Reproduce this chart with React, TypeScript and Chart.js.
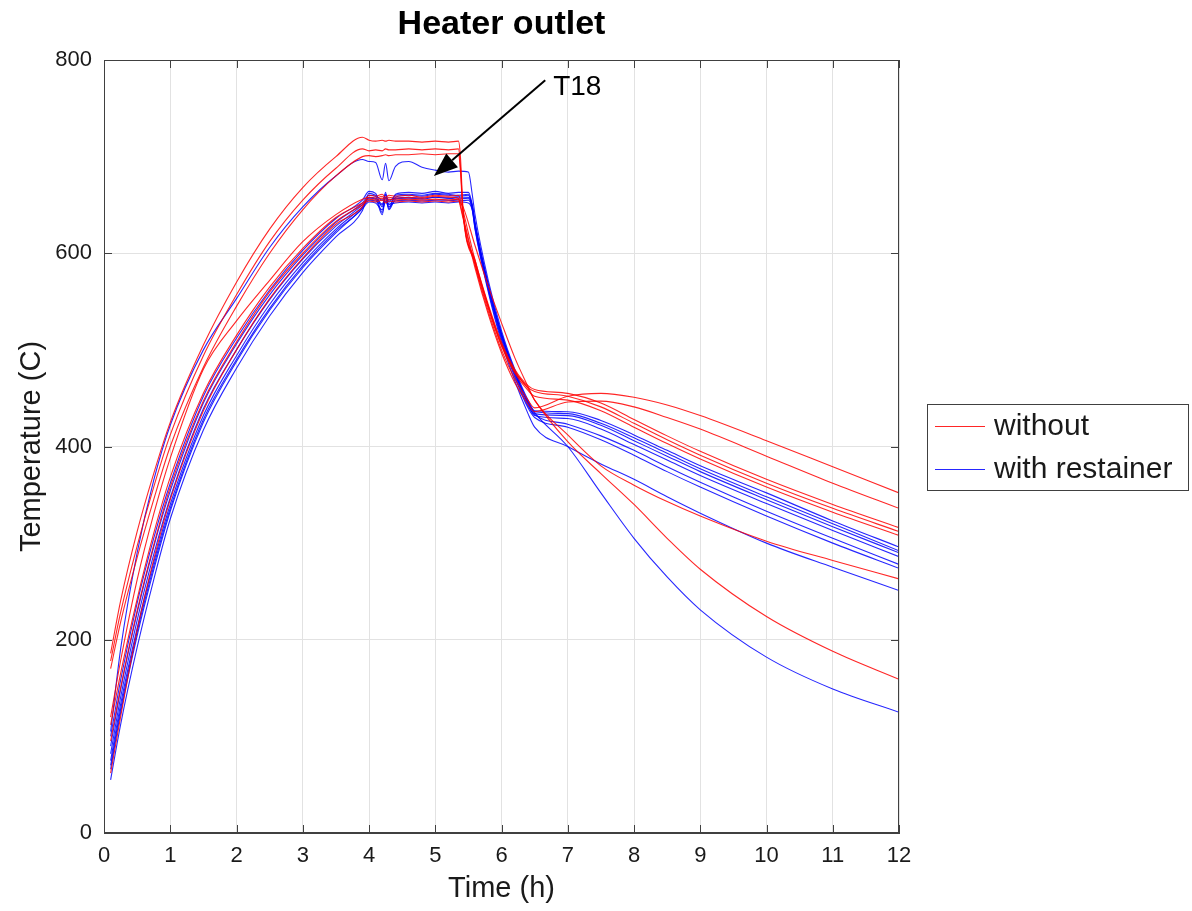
import React, { useEffect, useRef } from "react";
import { Chart, registerables } from "chart.js";

Chart.register(...registerables);

const W = 1192;
const H = 911;

// ---------- axes ----------
const xMin = 0, xMax = 12, xStep = 1;
const yMin = 0, yMax = 800, yStep = 200;
const chartTitle = "Heater outlet";
const xTitle = "Time (h)";
const yTitle = "Temperature (C)";
const legendLabels = ["without", "with restainer"];

// ---------- time grids (h) ----------
const heatTimes = [0.1, 0.25, 0.5, 0.75, 1, 1.5, 2, 2.5, 3, 3.5, 3.9];
const redPlateauTimes = [4.0, 4.1, 4.2, 4.25, 4.3, 4.4, 4.6, 4.8, 5.0, 5.2, 5.35];
const bluePlateauTimes = [4.0, 4.1, 4.2, 4.25, 4.3, 4.4, 4.6, 4.8, 5.0, 5.2, 5.35, 5.5];
const redDropTimes = [5.38, 5.42, 5.6, 5.8, 6.0, 6.2, 6.4, 6.5];
const blueDropTimes = [5.56, 5.6, 5.8, 6.0, 6.2, 6.4, 6.5];
const coolTimes = [7, 7.5, 8, 8.5, 9, 10, 11, 12];

// ---------- "without" (red) ----------
const redHeat = [
  [186, 240, 312, 372, 425, 505, 570, 625, 668, 700, 720],
  [178, 228, 297, 358, 412, 494, 557, 612, 655, 688, 708],
  [170, 218, 285, 345, 400, 482, 545, 600, 645, 680, 700],
  [120, 178, 262, 330, 388, 480, 530, 572, 612, 640, 656],
  [112, 165, 242, 310, 368, 455, 515, 565, 605, 637, 652],
  [95, 150, 230, 298, 358, 447, 508, 560, 600, 633, 650],
  [62, 120, 210, 283, 345, 437, 500, 553, 595, 630, 648],
];
const redPlateau = [
  [717, 716, 717, 716, 717, 716, 716, 715, 716, 715, 716],
  [706, 707, 706, 708, 707, 707, 708, 707, 708, 707, 708],
  [701, 700, 701, 702, 701, 702, 702, 703, 702, 703, 703],
  [658, 657, 659, 656, 658, 657, 658, 657, 659, 658, 657],
  [656, 655, 657, 654, 656, 655, 656, 655, 656, 655, 656],
  [654, 653, 655, 652, 654, 653, 654, 653, 654, 653, 654],
  [660, 659, 661, 658, 660, 659, 660, 658, 660, 659, 660],
];
const redDrop = [
  [700, 645, 593, 547, 508, 480, 463, 459],
  [690, 643, 591, 545, 506, 478, 461, 457],
  [685, 640, 589, 543, 504, 476, 458, 452],
  [650, 638, 588, 540, 500, 470, 448, 440],
  [648, 636, 585, 537, 497, 466, 444, 436],
  [652, 648, 608, 566, 528, 492, 462, 448],
  [655, 644, 593, 545, 505, 478, 460, 448],
];
const redCool = [
  [455, 445, 428, 411, 395, 366, 340, 316],
  [452, 441, 424, 407, 391, 362, 336, 312],
  [448, 437, 420, 403, 387, 358, 332, 308],
  [452, 455, 451, 443, 432, 406, 379, 352],
  [446, 447, 441, 430, 418, 390, 362, 336],
  [412, 380, 360, 343, 328, 302, 282, 263],
  [405, 372, 340, 305, 273, 224, 188, 159],
];

// ---------- "with restainer" (blue) ----------
const blueHeat = [
  [105, 190, 290, 365, 422, 500, 553, 606, 648, 680, 697],
  [100, 158, 238, 305, 362, 452, 512, 562, 603, 636, 655],
  [90, 148, 228, 296, 354, 445, 506, 557, 598, 632, 652],
  [82, 140, 220, 288, 347, 439, 500, 552, 594, 628, 650],
  [75, 133, 212, 280, 340, 432, 494, 547, 590, 625, 648],
  [66, 124, 204, 272, 333, 425, 488, 541, 585, 621, 646],
  [55, 112, 192, 262, 325, 417, 481, 535, 580, 617, 644],
  [70, 128, 208, 276, 336, 428, 490, 543, 587, 623, 647],
];
const bluePlateau = [
  [695, 694, 676, 693, 675, 690, 695, 689, 686, 684, 685, 684],
  [664, 662, 648, 663, 646, 661, 663, 662, 664, 662, 663, 663],
  [660, 659, 642, 660, 650, 658, 660, 659, 661, 660, 659, 660],
  [657, 656, 640, 657, 645, 656, 657, 656, 658, 657, 656, 657],
  [655, 654, 650, 654, 648, 654, 655, 654, 655, 655, 654, 655],
  [653, 652, 645, 653, 651, 652, 653, 652, 653, 652, 653, 652],
  [662, 660, 655, 661, 653, 660, 661, 660, 662, 661, 660, 661],
  [658, 657, 651, 658, 655, 657, 658, 657, 658, 657, 658, 658],
];
const blueDrop = [
  [660, 640, 572, 520, 480, 448, 437],
  [650, 632, 568, 517, 478, 446, 434],
  [648, 630, 566, 515, 476, 444, 432],
  [646, 628, 564, 513, 474, 442, 433],
  [645, 626, 562, 511, 472, 440, 430],
  [644, 625, 560, 508, 468, 434, 420],
  [647, 630, 566, 516, 477, 446, 435],
  [649, 631, 567, 516, 477, 445, 436],
];
const blueCool = [
  [436, 427, 412, 396, 380, 352, 323, 296],
  [432, 422, 406, 390, 374, 345, 317, 290],
  [429, 418, 402, 386, 370, 341, 313, 286],
  [423, 411, 396, 379, 363, 333, 305, 278],
  [420, 407, 391, 374, 358, 328, 300, 274],
  [400, 382, 366, 348, 331, 300, 275, 251],
  [400, 352, 305, 265, 231, 182, 149, 125],
  [434, 424, 409, 393, 377, 348, 320, 292],
];

// ---------- annotation ----------
const arrowLabel = "T18";
const arrowTail = { x: 6.66, y: 779 };
const arrowTip = { x: 4.98, y: 680 };
const arrowLabelPos = { x: 6.78, y: 772 };

const RED = "rgba(255,0,0,0.85)";
const BLUE = "rgba(0,0,255,0.85)";
const FONT = "'Liberation Sans', Arial, sans-serif";
const AXIS = "#404040";
const TEXT = "#1a1a1a";

const pts = (times: number[], vals: number[]) =>
  times.map((t, i) => ({ x: t, y: vals[i] }));

function buildSeries(
  heat: number[],
  plateau: number[],
  drop: number[],
  cool: number[],
  plateauTimes: number[],
  dropTimes: number[]
) {
  return [
    ...pts(heatTimes, heat),
    ...pts(plateauTimes, plateau),
    ...pts(dropTimes, drop),
    ...pts(coolTimes, cool),
  ];
}

const framePlugin = {
  id: "frameAndExtras",
  afterDraw(chart: any) {
    const { ctx, chartArea: a, scales } = chart;
    const xs = scales.x;
    const ys = scales.y;
    ctx.save();

    // box
    ctx.strokeStyle = AXIS;
    ctx.lineWidth = 1;
    ctx.strokeRect(Math.round(a.left) + 0.5, Math.round(a.top) + 0.5,
      Math.round(a.right - a.left) - 1, Math.round(a.bottom - a.top) - 1);

    // inward ticks
    const tl = 8;
    ctx.beginPath();
    xs.ticks.forEach((t: any) => {
      const px = Math.round(xs.getPixelForValue(t.value)) + 0.5;
      ctx.moveTo(px, a.bottom);
      ctx.lineTo(px, a.bottom - tl);
      ctx.moveTo(px, a.top);
      ctx.lineTo(px, a.top + tl);
    });
    ys.ticks.forEach((t: any) => {
      const py = Math.round(ys.getPixelForValue(t.value)) + 0.5;
      ctx.moveTo(a.left, py);
      ctx.lineTo(a.left + tl, py);
      ctx.moveTo(a.right, py);
      ctx.lineTo(a.right - tl, py);
    });
    ctx.stroke();

    // title
    ctx.fillStyle = "#000";
    ctx.font = `bold 34px ${FONT}`;
    ctx.textAlign = "center";
    ctx.textBaseline = "middle";
    ctx.fillText(chartTitle, (a.left + a.right) / 2, 25);

    // arrow annotation
    const x0 = xs.getPixelForValue(arrowTail.x);
    const y0 = ys.getPixelForValue(arrowTail.y);
    const x1 = xs.getPixelForValue(arrowTip.x);
    const y1 = ys.getPixelForValue(arrowTip.y);
    const ang = Math.atan2(y1 - y0, x1 - x0);
    const hl = 24, hw = 9;
    const bx = x1 - hl * Math.cos(ang);
    const by = y1 - hl * Math.sin(ang);
    ctx.strokeStyle = "#000";
    ctx.lineWidth = 2;
    ctx.beginPath();
    ctx.moveTo(x0, y0);
    ctx.lineTo(bx, by);
    ctx.stroke();
    ctx.fillStyle = "#000";
    ctx.beginPath();
    ctx.moveTo(x1, y1);
    ctx.lineTo(bx + hw * Math.sin(ang), by - hw * Math.cos(ang));
    ctx.lineTo(bx - hw * Math.sin(ang), by + hw * Math.cos(ang));
    ctx.closePath();
    ctx.fill();
    ctx.font = `28px ${FONT}`;
    ctx.textAlign = "left";
    ctx.textBaseline = "middle";
    ctx.fillText(arrowLabel, xs.getPixelForValue(arrowLabelPos.x), ys.getPixelForValue(arrowLabelPos.y));

    // legend box
    const lx = a.right + 28;
    const lr = chart.width - 4;
    const cy = (a.top + a.bottom) / 2;
    const lt = Math.round(cy - 43) + 0.5;
    const lb = Math.round(cy + 43) + 0.5;
    ctx.fillStyle = "#fff";
    ctx.fillRect(lx, lt, lr - lx, lb - lt);
    ctx.strokeStyle = AXIS;
    ctx.lineWidth = 1;
    ctx.strokeRect(Math.round(lx) + 0.5, lt, Math.round(lr - lx), lb - lt);
    const colors = [RED, BLUE];
    legendLabels.forEach((lab, i) => {
      const yy = lt + 21 + i * 43;
      ctx.strokeStyle = colors[i];
      ctx.lineWidth = 1;
      ctx.beginPath();
      ctx.moveTo(lx + 8, Math.round(yy) + 0.5);
      ctx.lineTo(lx + 58, Math.round(yy) + 0.5);
      ctx.stroke();
      ctx.fillStyle = TEXT;
      ctx.font = `30px ${FONT}`;
      ctx.textAlign = "left";
      ctx.textBaseline = "middle";
      ctx.fillText(lab, lx + 67, yy + 1);
    });

    ctx.restore();
  },
};

export default function App() {
  const ref = useRef<HTMLCanvasElement | null>(null);

  useEffect(() => {
    if (!ref.current) return;
    const datasets: any[] = [];
    redHeat.forEach((h, i) => {
      datasets.push({
        label: legendLabels[0],
        data: buildSeries(h, redPlateau[i], redDrop[i], redCool[i], redPlateauTimes, redDropTimes),
        borderColor: RED,
        borderWidth: 1.1,
        pointRadius: 0,
        fill: false,
        cubicInterpolationMode: "monotone",
      });
    });
    blueHeat.forEach((h, i) => {
      datasets.push({
        label: legendLabels[1],
        data: buildSeries(h, bluePlateau[i], blueDrop[i], blueCool[i], bluePlateauTimes, blueDropTimes),
        borderColor: BLUE,
        borderWidth: 1.1,
        pointRadius: 0,
        fill: false,
        cubicInterpolationMode: "monotone",
      });
    });

    const chart = new Chart(ref.current, {
      type: "line",
      data: { datasets },
      options: {
        responsive: false,
        animation: false,
        devicePixelRatio: 1,
        layout: { padding: { top: 60, right: W - 899, left: 0, bottom: 0 } },
        plugins: {
          legend: { display: false },
          title: { display: false },
          tooltip: { enabled: false },
        },
        scales: {
          x: {
            type: "linear",
            min: xMin,
            max: xMax,
            afterFit: (s: any) => { s.height = 78; },
            ticks: {
              stepSize: xStep,
              color: TEXT,
              font: { family: FONT, size: 22 },
              padding: 10,
              maxRotation: 0,
            },
            grid: { color: "#e2e2e2", lineWidth: 1, drawTicks: false },
            border: { display: true, color: AXIS },
            title: {
              display: true,
              text: xTitle,
              color: TEXT,
              font: { family: FONT, size: 29 },
              padding: { top: 0, bottom: 5 },
            },
          },
          y: {
            type: "linear",
            min: yMin,
            max: yMax,
            afterFit: (s: any) => { s.width = 104; },
            ticks: {
              stepSize: yStep,
              color: TEXT,
              font: { family: FONT, size: 22 },
              padding: 12,
            },
            grid: { color: "#e2e2e2", lineWidth: 1, drawTicks: false },
            border: { display: true, color: AXIS },
            title: {
              display: true,
              text: yTitle,
              color: TEXT,
              font: { family: FONT, size: 29 },
              padding: { top: 15, bottom: 0 },
            },
          },
        },
      },
      plugins: [framePlugin],
    });
    return () => chart.destroy();
  }, []);

  return (
    <div style={{ position: "absolute", left: 0, top: 0, width: W, height: H, background: "#fff" }}>
      <canvas ref={ref} width={W} height={H} style={{ display: "block" }} />
    </div>
  );
}
